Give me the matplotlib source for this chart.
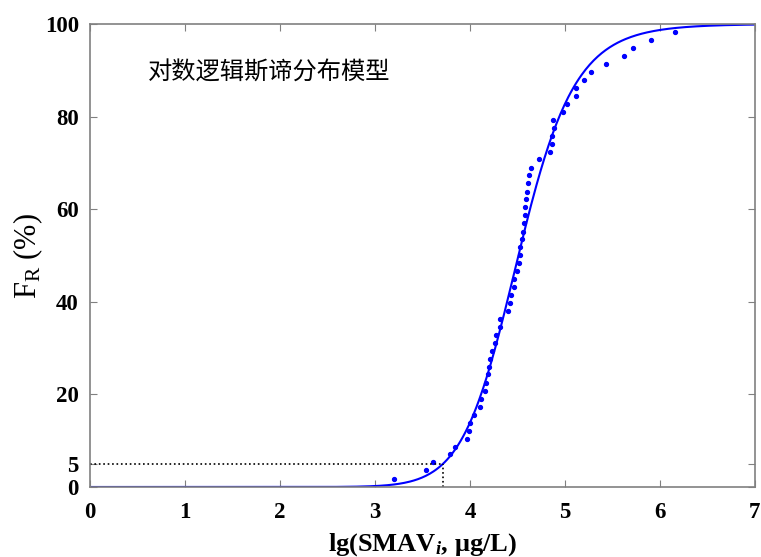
import numpy as np
import matplotlib
matplotlib.use("Agg")
import matplotlib.pyplot as plt

plt.rcParams['font.family'] = ['Liberation Serif', 'DejaVu Serif']
plt.rcParams['mathtext.fontset'] = 'custom'
plt.rcParams['mathtext.rm'] = 'Liberation Serif:bold'
plt.rcParams['mathtext.it'] = 'Liberation Serif:italic:bold'

# observed points: lg(SMAV) and cumulative frequency (%)
lg_smav = [3.20, 3.54, 3.61, 3.79, 3.84, 3.97, 3.99, 4.00, 4.04,
           4.11, 4.12, 4.16, 4.17, 4.19, 4.20, 4.21, 4.23, 4.26, 4.27, 4.32,
           4.32, 4.40, 4.42, 4.43, 4.46, 4.46, 4.49, 4.52, 4.53, 4.53, 4.55, 4.56,
           4.57, 4.58, 4.58, 4.59, 4.60, 4.61, 4.62, 4.64, 4.73, 4.84, 4.86,
           4.86, 4.88, 4.87, 4.98, 5.02, 5.12, 5.12, 5.20, 5.27, 5.43,
           5.62, 5.72, 5.91, 6.16]
freq = [1.8, 3.6, 5.3, 7.1, 8.7, 10.4, 12.2, 13.9, 15.6,
        17.3, 19.0, 20.7, 22.5, 24.3, 26.0, 27.7, 29.4, 31.2, 32.8, 34.6,
        36.2, 38.0, 39.8, 41.5, 43.3, 44.9, 46.6, 48.3, 50.0, 51.8, 53.5, 55.1,
        57.1, 58.7, 60.4, 62.1, 63.8, 65.6, 67.3, 69.0, 70.8, 72.4, 74.1,
        75.8, 77.5, 79.3, 81.1, 82.8, 84.5, 86.2, 87.9, 89.6, 91.4,
        93.1, 94.8, 96.5, 98.2]

# fitted logistic model: F = 100 / (1 + (x/x0)^-p)
x0 = 4.51
p = 15.2
hc5 = 3.717

xs = np.linspace(0.001, 7, 500)
fit = 100.0 / (1.0 + (xs / x0) ** (-p))

fig = plt.figure(figsize=(7.61, 5.57), dpi=100)
ax = fig.add_axes([0.1183, 0.1257, 0.8737, 0.8312])

ax.plot(xs, fit, color='#0000ff', linewidth=1.5)
ax.plot(lg_smav, freq, 'o', color='#0000ff', markersize=2.8, linestyle='none')
ax.plot([0, hc5], [5, 5], color='black', linestyle=':', linewidth=1.2)
ax.plot([hc5, hc5], [0, 5], color='black', linestyle=':', linewidth=1.2)

ax.set_xlim(0, 7)
ax.set_ylim(0, 100)
ax.set_xticks(range(0, 8))
ax.set_yticks([0, 5, 20, 40, 60, 80, 100])
ax.tick_params(direction='in', top=True, right=True, length=5, color='#808080',
               labelsize=16.5)
ax.tick_params(axis='x', pad=11)
ax.tick_params(axis='y', pad=8)
for lab in ax.get_xticklabels() + ax.get_yticklabels():
    lab.set_fontweight('bold')
for sp in ax.spines.values():
    sp.set_color('#808080')
    sp.set_linewidth(1.2)

ax.set_xlabel(r'lg(SMAV$_{i}$, μg/L)', fontsize=19, fontweight='bold', labelpad=6)
ax.set_ylabel(r'F$_{\mathregular{R}}$ (%)', fontsize=22, labelpad=0)

ax.text(0.61, 89.4, '对数逻辑斯谛分布模型', fontsize=17.5,
        family=['Noto Sans CJK SC', 'DejaVu Sans'], va='center', ha='left')

plt.savefig('out.png', dpi=100)
